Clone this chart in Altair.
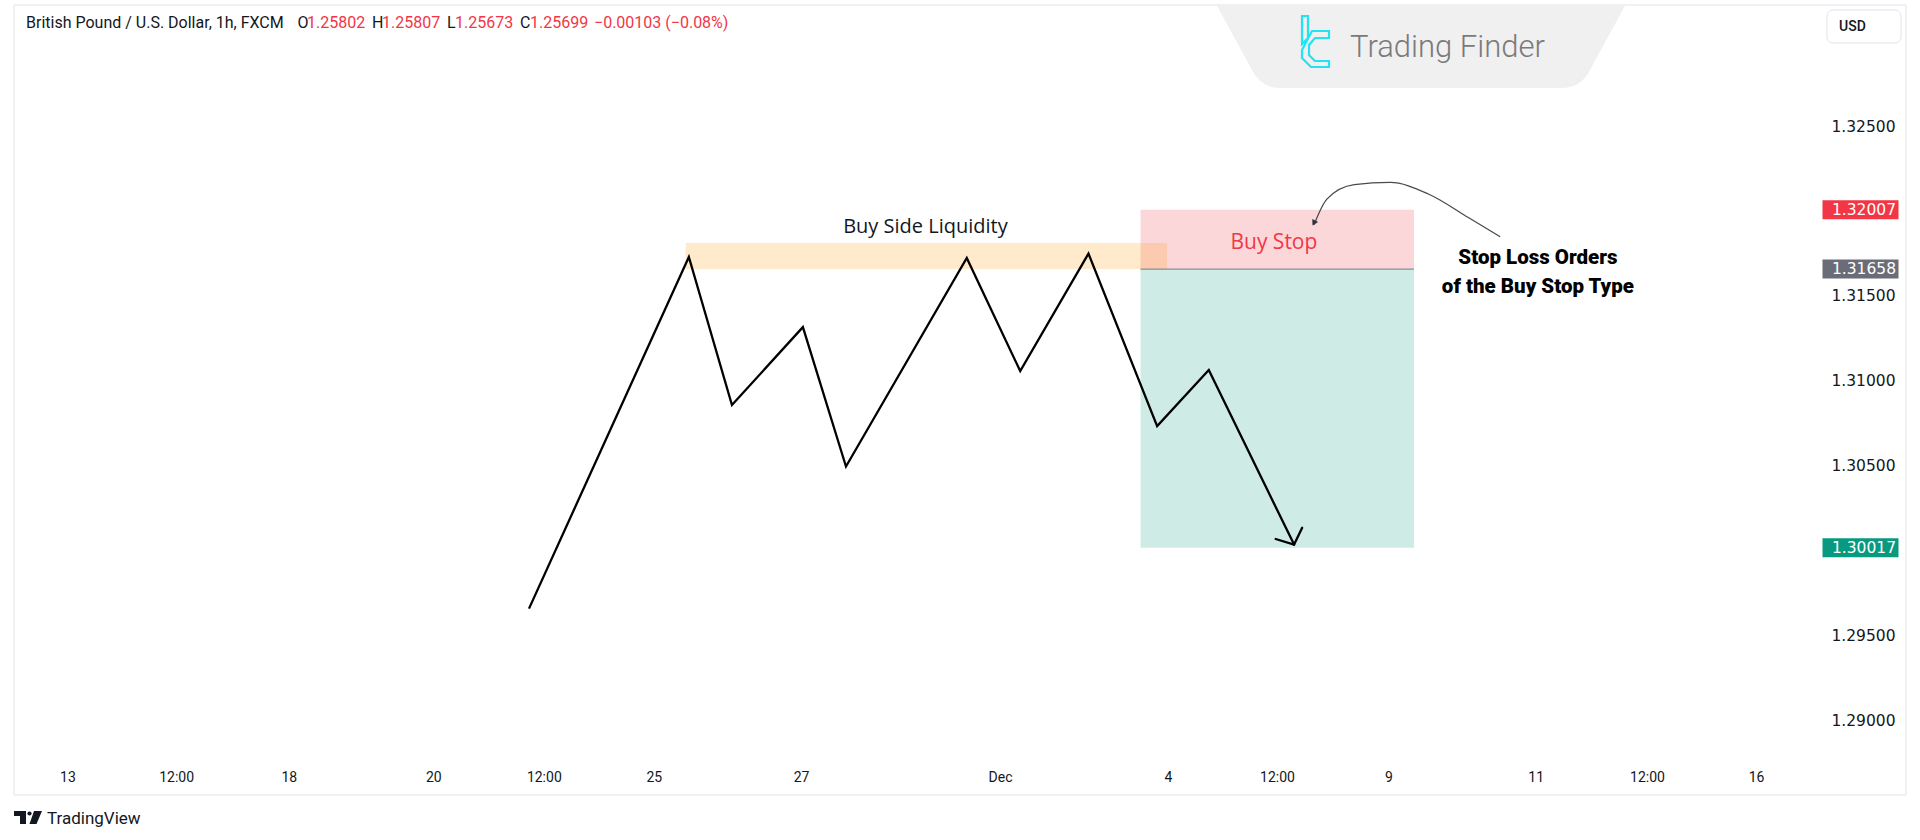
import altair as alt
import pandas as pd

# ---------------- data ----------------
# x is measured in "bar" units of the time axis, y in GBP/USD price
line_x = [114.7, 150.3, 159.9, 175.7, 185.3, 212.2, 224.1, 239.3, 254.6, 266.1, 285.1]
line_price = [1.29658, 1.31729, 1.30857, 1.31316, 1.30495, 1.31723, 1.31057, 1.31749,
              1.30733, 1.31063, 1.30035]

arrow_arm_x = [281.0, 286.9]
arrow_arm_price = [1.30068, 1.30134]

x_tick_values = [11.9, 36.1, 61.2, 93.4, 118.0, 142.5, 175.3, 219.6, 257.0, 281.3,
                 306.1, 338.9, 363.7, 388.0]
x_tick_labels = ["13", "12:00", "18", "20", "12:00", "25", "27", "Dec", "4", "12:00",
                 "9", "11", "12:00", "16"]
y_tick_values = [1.290, 1.295, 1.300, 1.305, 1.310, 1.315, 1.320, 1.325]

stop_price = 1.32007
entry_price = 1.31658
target_price = 1.30017
position_start, position_end = 250.9, 311.8
liquidity_start, liquidity_end = 149.6, 256.8
liquidity_top = 1.31811

curve_x = [289.5, 292.4, 298.5, 306.5, 315.0, 324.0, 331.0]
curve_price = [1.31917, 1.32070, 1.32155, 1.32168, 1.32100, 1.31960, 1.31848]

zone_names = ["target", "stop", "liquidity"]
zone_x = [position_start, position_start, liquidity_start]
zone_x2 = [position_end, position_end, liquidity_end]
zone_y = [target_price, entry_price, entry_price]
zone_y2 = [entry_price, stop_price, liquidity_top]

tag_names = ["stop", "entry", "target"]
tag_prices = [stop_price, entry_price, target_price]

header_title = "British Pound / U.S. Dollar, 1h, FXCM"
ohlc_letters = ["O", "H", "L", "C"]
ohlc_values = ["1.25802", "1.25807", "1.25673", "1.25699"]
change_text = "\u22120.00103 (\u22120.08%)"

annot_buy_side = ("Buy Side Liquidity", 203.0, 1.31908)
annot_buy_stop = ("Buy Stop", 280.6, 1.31814)
annot_stop_loss = [("Stop Loss Orders", 339.4, 1.31723),
                   ("of the Buy Stop Type", 339.4, 1.31552)]

# ---------------- layout / style ----------------
W, H = 1796, 750
PAD_L, PAD_T = 14, 5
X_DOMAIN = [0, 400]
Y_DOMAIN = [1.28796, 1.33213]
TEXT = "#131722"
RED = "#F23645"
GREEN = "#089981"
GREY_TAG = "#6A6D78"


def px(v):
    return v - PAD_L


def py(v):
    return v - PAD_T


def sym_path(cmds, cx, cy, half):
    out = []
    for c, pts in cmds:
        vals = []
        for i in range(0, len(pts), 2):
            vals.append(f"{(pts[i] - cx) / half:.4f},{(pts[i + 1] - cy) / half:.4f}")
        out.append(c + " ".join(vals))
    return "".join(out)


tick_list = ",".join(str(v) for v in x_tick_values)
label_list = ",".join("'" + s + "'" for s in x_tick_labels)

X_ENC = dict(
    scale=alt.Scale(domain=X_DOMAIN, nice=False, zero=False),
    axis=alt.Axis(values=x_tick_values, labelExpr=f"[{label_list}][indexof([{tick_list}], datum.value)]",
                  domain=False, ticks=False, grid=False, title=None, labelFont="Roboto",
                  labelFontSize=14, labelColor=TEXT, labelPadding=15, labelFlush=False,
                  labelOverlap=False,
                  labelFontWeight={"condition": {"test": "datum.label == 'Dec'", "value": "bold"},
                                   "value": "normal"}),
)
Y_ENC = dict(
    scale=alt.Scale(domain=Y_DOMAIN, nice=False, zero=False),
    axis=alt.Axis(values=y_tick_values, format=".5f", orient="right", domain=False, ticks=False,
                  grid=False, title=None, labelFont="DejaVu Sans", labelFontSize=15.5,
                  labelColor=TEXT, labelAlign="right", labelBaseline="middle", labelPadding=85,
                  labelFlush=False, labelOverlap=False),
)


def X(f):
    return alt.X(f, type="quantitative", **X_ENC)


def Y(f):
    return alt.Y(f, type="quantitative", **Y_ENC)


one = alt.Data(values=[{}])
layers = []

# frame
layers.append(alt.Chart(one).mark_rect(filled=False, stroke="#E0E3EB", strokeWidth=1).encode(
    x=alt.value(0), x2=alt.value(1892), y=alt.value(0), y2=alt.value(790)))

# zones
zones = pd.DataFrame({"zone": zone_names, "x": zone_x, "x2": zone_x2, "y": zone_y, "y2": zone_y2})
zone_fill = {"target": "rgba(8,153,129,0.2)", "stop": "rgba(242,54,69,0.2)",
             "liquidity": "rgba(255,152,0,0.2)"}
for z in zone_names:
    layers.append(alt.Chart(zones).transform_filter(alt.datum.zone == z).mark_rect(
        color=zone_fill[z], opacity=1).encode(x=X("x"), x2="x2", y=Y("y"), y2="y2"))

# entry line
entry_df = pd.DataFrame({"x": [position_start], "x2": [position_end], "y": [entry_price]})
layers.append(alt.Chart(entry_df).mark_rule(color="#8A8D96", strokeWidth=1.2).encode(
    x=X("x"), x2="x2", y=Y("y")))

# main price path
line_df = pd.DataFrame({"x": line_x, "price": line_price, "i": list(range(len(line_x)))})
layers.append(alt.Chart(line_df).mark_line(color="#000000", strokeWidth=2.3, strokeJoin="miter").encode(
    x=X("x"), y=Y("price"), order="i:Q"))

# arrow head of main path
arms = pd.DataFrame({"x": [line_x[-1]] * 2, "y": [line_price[-1]] * 2,
                     "x2": arrow_arm_x, "y2": arrow_arm_price})
layers.append(alt.Chart(arms).mark_rule(color="#000000", strokeWidth=2.3, strokeCap="round").encode(
    x=X("x"), y=Y("y"), x2="x2", y2="y2"))

# curved annotation arrow
curve_df = pd.DataFrame({"x": curve_x, "price": curve_price})
layers.append(alt.Chart(curve_df).mark_line(color="#4A4A4A", strokeWidth=1.3, interpolate="monotone").encode(
    x=X("x"), y=Y("price")))
tip_df = pd.DataFrame({"x": [curve_x[0]], "price": [curve_price[0]]})
layers.append(alt.Chart(tip_df).mark_point(shape="triangle-down", size=45, filled=True, color="#333333",
                                           opacity=1, angle=28, yOffset=-2).encode(
    x=X("x"), y=Y("price")))

# annotation texts
t, ax, ay = annot_buy_side
layers.append(alt.Chart(pd.DataFrame({"t": [t], "x": [ax], "y": [ay]})).mark_text(
    font="Open Sans", fontSize=20, color=TEXT, align="center", baseline="middle").encode(
    x=X("x"), y=Y("y"), text="t:N"))
t, ax, ay = annot_buy_stop
layers.append(alt.Chart(pd.DataFrame({"t": [t], "x": [ax], "y": [ay]})).mark_text(
    font="Open Sans", fontSize=21, color=RED, align="center", baseline="middle").encode(
    x=X("x"), y=Y("y"), text="t:N"))
sl = pd.DataFrame({"t": [a[0] for a in annot_stop_loss], "x": [a[1] for a in annot_stop_loss],
                   "y": [a[2] for a in annot_stop_loss]})
layers.append(alt.Chart(sl).mark_text(font="Roboto", fontSize=20.5, fontWeight=900, color="#000000",
                                      align="center", baseline="middle").encode(
    x=X("x"), y=Y("y"), text="t:N"))

# price tags on the price scale
tags = pd.DataFrame({"tag": tag_names, "price": tag_prices,
                     "label": [f"{p:.5f}" for p in tag_prices]})
tag_fill = {"stop": RED, "entry": GREY_TAG, "target": GREEN}
box_path = "M-1,-0.25L1,-0.25L1,0.25L-1,0.25Z"
for tname in tag_names:
    sub = alt.Chart(tags).transform_filter(alt.datum.tag == tname)
    layers.append(sub.mark_point(shape=box_path, size=76 * 76, filled=True, opacity=1, strokeWidth=0,
                                 color=tag_fill[tname]).encode(
        x=alt.value(px(1860.5)), y=Y("price")))
layers.append(alt.Chart(tags).mark_text(font="DejaVu Sans", fontSize=15.5, color="white", align="right",
                                        baseline="middle").encode(
    x=alt.value(px(1896)), y=Y("price"), text="label:N"))


# header texts
def header_text(s, xf, color, weight="normal"):
    return alt.Chart(one).mark_text(text=s, font="Roboto", fontSize=16, color=color, align="left",
                                    baseline="middle", fontWeight=weight).encode(
        x=alt.value(px(xf)), y=alt.value(py(23)))


layers.append(header_text(header_title, 26, TEXT))
for letter, val, lx, vx in zip(ohlc_letters, ohlc_values, [297.6, 372, 447, 520], [307, 382, 455, 530]):
    layers.append(header_text(letter, lx, TEXT))
    layers.append(header_text(val, vx, RED))
layers.append(header_text(change_text, 594, RED))

# Trading Finder badge
trap = sym_path([("M", [1216, 4]), ("L", [1626, 4]), ("L", [1590, 70]), ("Q", [1581, 88, 1561, 88]),
                 ("L", [1281, 88]), ("Q", [1261, 88, 1252, 70]), ("Z", [])], 1421, 46, 205)
layers.append(alt.Chart(one).mark_point(shape=trap, size=410 * 410, filled=True, color="#F0F0F0",
                                        opacity=1, strokeWidth=0).encode(
    x=alt.value(px(1421)), y=alt.value(py(46))))
icon = sym_path([("M", [1302, 16]), ("L", [1308, 16]), ("L", [1308, 38]), ("L", [1302, 44]), ("Z", []),
                 ("M", [1312, 31]), ("L", [1329, 31]), ("L", [1329, 38]), ("L", [1315, 38]),
                 ("L", [1309, 45]), ("L", [1309, 55]), ("L", [1315, 61]), ("L", [1329, 61]),
                 ("L", [1329, 67]), ("L", [1311, 67]), ("L", [1302, 58]), ("L", [1302, 50]), ("Z", [])],
                1316, 42, 30)
layers.append(alt.Chart(one).mark_point(shape=icon, size=60 * 60, filled=False, color="#22E3F2",
                                        opacity=1, strokeWidth=2.2).encode(
    x=alt.value(px(1316)), y=alt.value(py(42))))
layers.append(alt.Chart(one).mark_text(text="Trading Finder", font="Roboto", fontWeight=300, fontSize=31,
                                       color="#7A7A7A", align="left", baseline="middle").encode(
    x=alt.value(px(1350)), y=alt.value(py(48))))

# USD box
layers.append(alt.Chart(one).mark_rect(fill="white", stroke="#E0E3EB", strokeWidth=1, cornerRadius=6).encode(
    x=alt.value(px(1827)), x2=alt.value(px(1901)), y=alt.value(py(10)), y2=alt.value(py(43))))
layers.append(alt.Chart(one).mark_text(text="USD", font="Roboto", fontWeight=500, fontSize=14, color=TEXT,
                                       align="left", baseline="middle").encode(
    x=alt.value(px(1839)), y=alt.value(py(27))))

# TradingView footer
tv = sym_path([("M", [14, 811]), ("L", [26, 811]), ("L", [26, 824]), ("L", [20, 824]), ("L", [20, 816]),
               ("L", [14, 816]), ("Z", []),
               ("M", [34, 811]), ("L", [42, 811]), ("L", [36.5, 824]), ("L", [29.5, 824]), ("Z", [])],
              28, 817.5, 14)
layers.append(alt.Chart(one).mark_point(shape=tv, size=28 * 28, filled=True, color=TEXT, opacity=1,
                                        strokeWidth=0).encode(
    x=alt.value(px(28)), y=alt.value(py(817.5))))
layers.append(alt.Chart(one).mark_circle(size=18, color=TEXT, opacity=1).encode(
    x=alt.value(px(29.5)), y=alt.value(py(813.5))))
layers.append(alt.Chart(one).mark_text(text="TradingView", font="Roboto", fontSize=17, color=TEXT,
                                       align="left", baseline="middle").encode(
    x=alt.value(px(47)), y=alt.value(py(819))))

chart = alt.layer(*layers).properties(
    width=W, height=H,
    padding={"left": PAD_L, "top": PAD_T, "right": 1920 - PAD_L - W, "bottom": 840 - PAD_T - H},
    autosize=alt.AutoSizeParams(type="none"),
    background="white",
).configure_view(stroke=None)

chart.save("out.html", embed_options={"renderer": "svg", "actions": False})
